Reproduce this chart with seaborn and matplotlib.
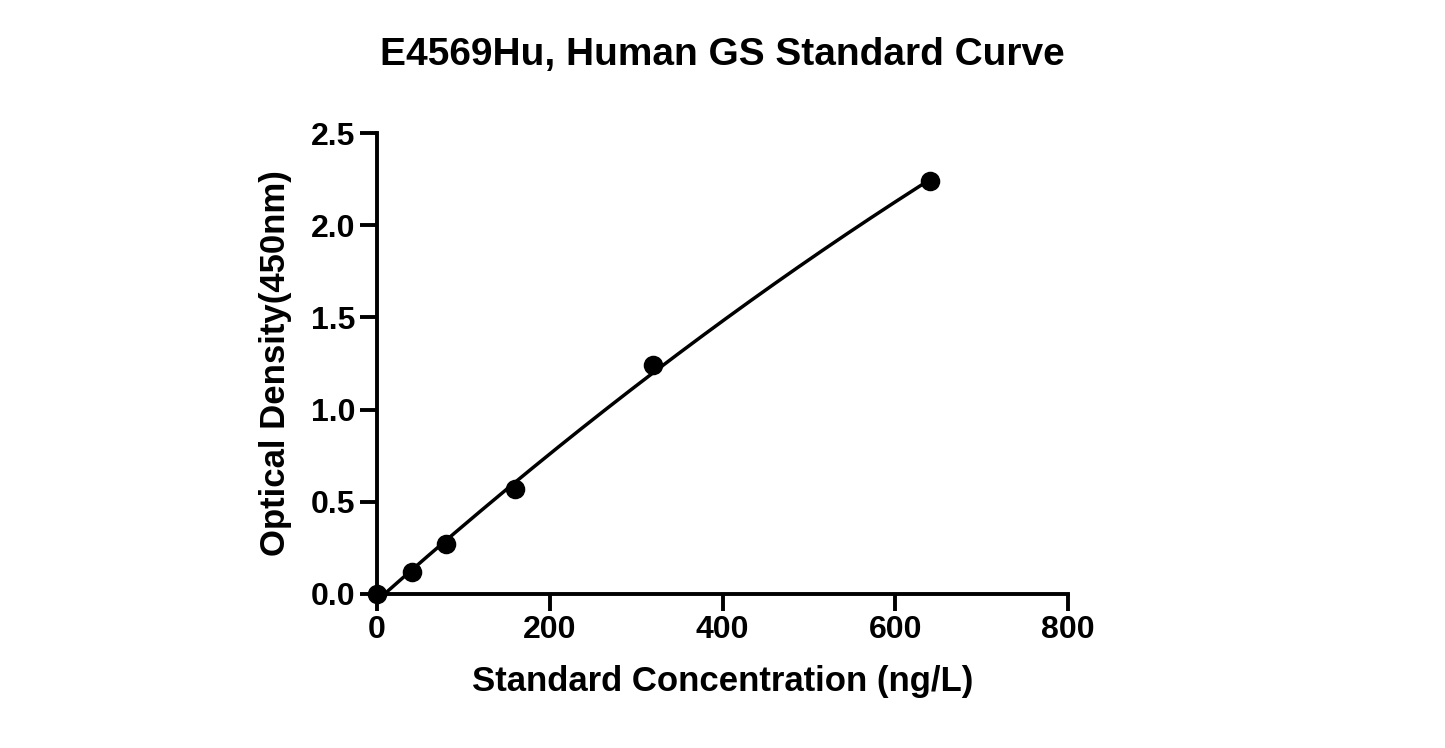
import numpy as np
import matplotlib
matplotlib.use("Agg")
import matplotlib.pyplot as plt
import seaborn as sns

conc = [0, 40, 80, 160, 320, 640]
od = [0.0, 0.12, 0.27, 0.57, 1.24, 2.24]
title = "E4569Hu, Human GS Standard Curve"

sns.set_style("ticks")
plt.rcParams['font.family'] = ['Liberation Sans', 'DejaVu Sans']
plt.rcParams['text.color'] = 'black'
fig = plt.figure(figsize=(14.45, 7.48), dpi=100)
ax = fig.add_axes([0.261, 0.206, 0.478, 0.616])

coef = np.polyfit(conc, od, 2)
xs = np.linspace(0, 640, 300)
sns.lineplot(x=xs, y=np.polyval(coef, xs), color="black", lw=2.5, ax=ax)
sns.scatterplot(x=conc, y=od, color="black", s=170, ax=ax, zorder=3, clip_on=False, edgecolor="black")

ax.set_xlim(0, 800)
ax.set_ylim(0, 2.5)
ax.set_xticks([0, 200, 400, 600, 800])
ax.set_yticks([0, 0.5, 1.0, 1.5, 2.0, 2.5])
ax.set_yticklabels(["0.0", "0.5", "1.0", "1.5", "2.0", "2.5"])
for s in ["top", "right"]:
    ax.spines[s].set_visible(False)
for s in ["left", "bottom"]:
    ax.spines[s].set_linewidth(2.8)
    ax.spines[s].set_color("black")
ax.tick_params(width=2.8, length=12, labelsize=23, color="black", labelcolor="black")
for lab in ax.get_xticklabels() + ax.get_yticklabels():
    lab.set_fontweight("bold")
ax.set_xlabel("Standard Concentration (ng/L)", fontsize=25, fontweight="bold", labelpad=14, color="black")
ax.set_ylabel("Optical Density(450nm)", fontsize=25, fontweight="bold", labelpad=14, color="black")
fig.suptitle(title, fontsize=28, fontweight="bold", x=0.5, y=0.95, color="black")
fig.savefig("out.png", dpi=100, facecolor="white")
